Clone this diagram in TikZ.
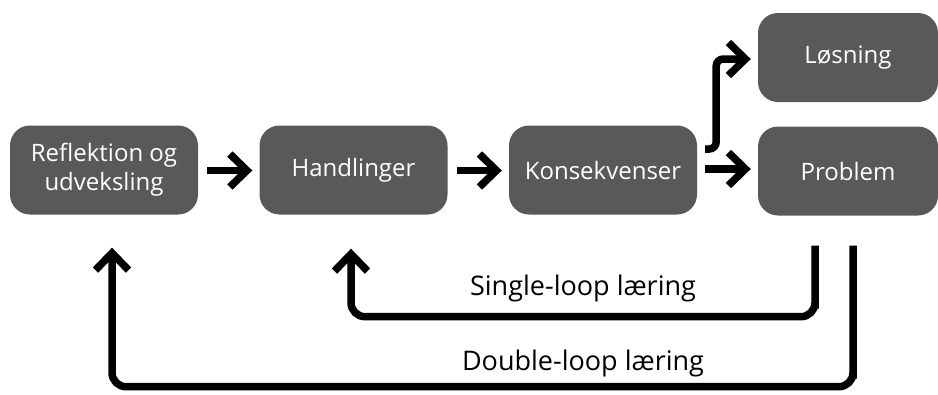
\documentclass[tikz,border=0pt]{standalone}
\usepackage{fontspec}
\setmainfont{Open Sans}
\usetikzlibrary{arrows.meta,calc}
\definecolor{boxgrey}{HTML}{58595B}
\tikzset{
  box/.style={fill=boxgrey, rounded corners=20pt, minimum height=89pt,
    text=white, font=\fontsize{24}{29}\selectfont, align=center, inner sep=0pt},
  flow/.style={line width=7.5pt, draw=black,
    -{Straight Barb[length=17pt,width=33pt,line join=miter,line cap=butt]}},
  loopline/.style={flow, rounded corners=14pt},
  looplabel/.style={font=\fontsize{27}{31}\selectfont, text=black}
}
\begin{document}
\begin{tikzpicture}[x=1pt,y=-1pt]
  \useasboundingbox (0,0) rectangle (938,394);
  % process boxes
  \node[box, minimum width=188pt] (refl) at (104,170) {Reflektion og\\udveksling};
  \node[box, minimum width=188pt] (hand) at (353.5,170) {Handlinger};
  \node[box, minimum width=188pt] (kons) at (603,170) {Konsekvenser};
  \node[box, minimum width=180pt] (prob) at (848,171) {Problem};
  \node[box, minimum width=180pt] (los) at (848,57.5) {Løsning};
  % forward arrows
  \draw[flow] ($(refl.east)+(9,0.5)$) -- ($(hand.west)+(-7,0.5)$);
  \draw[flow] ($(hand.east)+(9,0.5)$) -- ($(kons.west)+(-7,0.5)$);
  \draw[flow] ($(kons.east)+(8,-1)$) -- ($(prob.west)+(-7,-2)$);
  \draw[flow, rounded corners=7pt]
    ($(kons.east)+(8,-21)$) -- ++(11,0) |- ($(los.west)+(-7,1.5)$);
  % learning loops
  \coordinate (sstart) at ($(prob.south)+(-33,30)$);
  \coordinate (dstart) at ($(prob.south)+(5,30)$);
  \draw[loopline] (sstart) |- ++(0,71) -| ($(hand.south)+(-2.5,34)$);
  \draw[loopline] (dstart) |- ++(0,141) -| ($(refl.south)+(8,33)$);
  \node[looplabel] (single) at (583,288) {Single-loop læring};
  \node[looplabel] (double) at (583,363) {Double-loop læring};
\end{tikzpicture}
\end{document}
